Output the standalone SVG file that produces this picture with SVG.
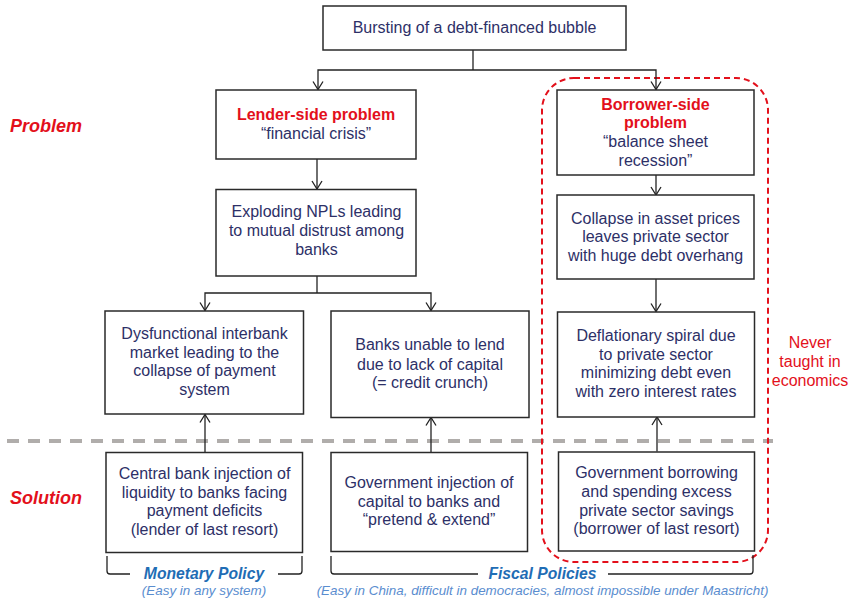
<svg xmlns="http://www.w3.org/2000/svg" width="852" height="601" viewBox="0 0 852 601">
<defs>
<style>
.box{fill:#fff;stroke:#2a2a2a;stroke-width:1.5}
.t{font-family:"Liberation Sans",Arial,sans-serif;font-size:16px;fill:#2d3067;text-anchor:middle}
.rb{font-family:"Liberation Sans",Arial,sans-serif;font-size:16px;font-weight:bold;fill:#e3101b;text-anchor:middle}
.side{font-family:"Liberation Sans",Arial,sans-serif;font-size:18px;font-weight:bold;font-style:italic;fill:#e3101b}
.never{font-family:"Liberation Sans",Arial,sans-serif;font-size:16px;fill:#e3101b;text-anchor:middle}
.pol{font-family:"Liberation Sans",Arial,sans-serif;font-size:15.7px;font-weight:bold;font-style:italic;fill:#1f6db5;text-anchor:middle}
.sub{font-family:"Liberation Sans",Arial,sans-serif;font-size:13.4px;font-style:italic;fill:#5a8dcf;text-anchor:middle}
.c{fill:none;stroke:#222;stroke-width:1.3}
</style>
<marker id="arr" viewBox="-10 -6 12 12" refX="0" refY="0" markerWidth="12" markerHeight="12" markerUnits="userSpaceOnUse" orient="auto">
<path d="M-8,-5 L0,0 L-8,5" fill="none" stroke="#222" stroke-width="1.3"/>
</marker>
</defs>
<rect width="852" height="601" fill="#fff"/>

<g id="labels">
<text class="side" x="10" y="132">Problem</text>
<text class="side" x="10" y="504">Solution</text>
<text class="never" x="810"><tspan x="810" y="348">Never</tspan><tspan x="810" y="367">taught in</tspan><tspan x="810" y="386">economics</tspan></text>
</g>

<g id="divider">
<line x1="7" y1="441" x2="773" y2="441" stroke="#b0adab" stroke-width="4" stroke-dasharray="12,9"/>
</g>

<g id="borrower-zone">
<rect x="542" y="78" width="226" height="484" rx="32" ry="32" fill="none" stroke="#e3101b" stroke-width="2" stroke-dasharray="6,4"/>
</g>

<g id="connectors">
<path class="c" d="M473,50 V70"/>
<path class="c" d="M473,70 H318 V89.5" marker-end="url(#arr)"/>
<path class="c" d="M473,70 H656 V89.5" marker-end="url(#arr)"/>
<path class="c" d="M317,159 V189" marker-end="url(#arr)"/>
<path class="c" d="M317,276 V293"/>
<path class="c" d="M317,293 H205 V310.5" marker-end="url(#arr)"/>
<path class="c" d="M317,293 H431 V310.5" marker-end="url(#arr)"/>
<path class="c" d="M656,175 V195" marker-end="url(#arr)"/>
<path class="c" d="M656,279 V311.5" marker-end="url(#arr)"/>
<path class="c" d="M205,452 V414.5" marker-end="url(#arr)"/>
<path class="c" d="M431,452 V417.5" marker-end="url(#arr)"/>
<path class="c" d="M657,451.5 V417" marker-end="url(#arr)"/>
</g>

<g id="bubble">
<rect class="box" x="323" y="6" width="303" height="44"/>
<text class="t" x="474.5" y="33">Bursting of a debt-financed bubble</text>
</g>

<g id="lender">
<rect class="box" x="216" y="90" width="200" height="69"/>
<text class="rb" x="316" y="120">Lender-side problem</text>
<text class="t" x="316" y="139">“financial crisis”</text>
</g>

<g id="borrower">
<rect class="box" x="557" y="90" width="197" height="85"/>
<text class="rb" x="655.5" y="110">Borrower-side</text>
<text class="rb" x="655.5" y="128">problem</text>
<text class="t" x="655.5" y="147">“balance sheet</text>
<text class="t" x="655.5" y="166">recession”</text>
</g>

<g id="npls">
<rect class="box" x="216" y="189.5" width="200" height="86.5"/>
<text class="t" x="316.5"><tspan x="316.5" y="217">Exploding NPLs leading</tspan><tspan x="316.5" y="236">to mutual distrust among</tspan><tspan x="316.5" y="254.5">banks</tspan></text>
</g>

<g id="collapse">
<rect class="box" x="557" y="195" width="197" height="84"/>
<text class="t" x="655.5"><tspan x="655.5" y="223.5">Collapse in asset prices</tspan><tspan x="655.5" y="242">leaves private sector</tspan><tspan x="655.5" y="261">with huge debt overhang</tspan></text>
</g>

<g id="interbank">
<rect class="box" x="105" y="311" width="198.5" height="103"/>
<text class="t" x="204.5"><tspan x="204.5" y="338.5">Dysfunctional interbank</tspan><tspan x="204.5" y="357.5">market leading to the</tspan><tspan x="204.5" y="376">collapse of payment</tspan><tspan x="204.5" y="394.5">system</tspan></text>
</g>

<g id="creditcrunch">
<rect class="box" x="331" y="311" width="198" height="106.5"/>
<text class="t" x="430"><tspan x="430" y="350">Banks unable to lend</tspan><tspan x="430" y="369.5">due to lack of capital</tspan><tspan x="430" y="388">(= credit crunch)</tspan></text>
</g>

<g id="deflation">
<rect class="box" x="557.5" y="312" width="197" height="105"/>
<text class="t" x="656"><tspan x="656" y="341">Deflationary spiral due</tspan><tspan x="656" y="359.5">to private sector</tspan><tspan x="656" y="378">minimizing debt even</tspan><tspan x="656" y="397">with zero interest rates</tspan></text>
</g>

<g id="centralbank">
<rect class="box" x="106" y="452.5" width="196.5" height="100"/>
<text class="t" x="204.5"><tspan x="204.5" y="478.5">Central bank injection of</tspan><tspan x="204.5" y="497.5">liquidity to banks facing</tspan><tspan x="204.5" y="516">payment deficits</tspan><tspan x="204.5" y="534.5">(lender of last resort)</tspan></text>
</g>

<g id="govinjection">
<rect class="box" x="331" y="452.5" width="196.5" height="99"/>
<text class="t" x="429"><tspan x="429" y="488">Government injection of</tspan><tspan x="429" y="506.5">capital to banks and</tspan><tspan x="429" y="525">“pretend &amp; extend”</tspan></text>
</g>

<g id="govborrowing">
<rect class="box" x="558.5" y="452" width="196" height="99"/>
<text class="t" x="656.5"><tspan x="656.5" y="478">Government borrowing</tspan><tspan x="656.5" y="497">and spending excess</tspan><tspan x="656.5" y="515.5">private sector savings</tspan><tspan x="656.5" y="534">(borrower of last resort)</tspan></text>
</g>

<g id="monetary">
<path class="c" d="M107,556 V571 Q107,574 110,574 H130"/>
<path class="c" d="M278,574 H299 Q302,574 302,571 V556"/>
<text class="pol" x="204" y="579">Monetary Policy</text>
<text class="sub" x="204" y="595">(Easy in any system)</text>
</g>

<g id="fiscal">
<path class="c" d="M331,556 V571 Q331,574 334,574 H478"/>
<path class="c" d="M608,574 H750 Q753,574 753,571 V555"/>
<text class="pol" x="542.5" y="579">Fiscal Policies</text>
<text class="sub" x="542.5" y="595">(Easy in China, difficult in democracies, almost impossible under Maastricht)</text>
</g>
</svg>
